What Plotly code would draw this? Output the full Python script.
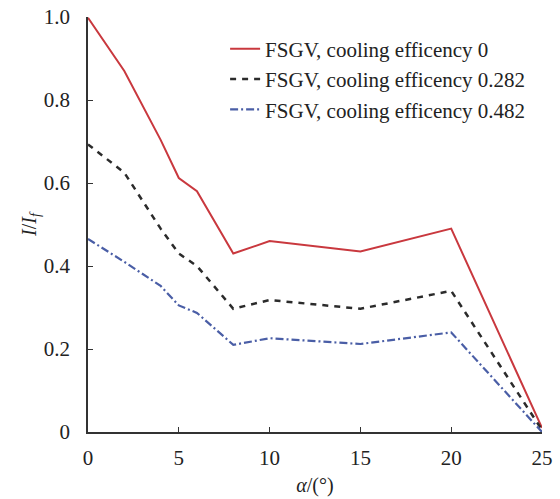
import plotly.graph_objects as go

# ángulo alfa (grados)
alpha = [0, 2, 4, 5, 6, 8, 10, 15, 20, 25]

# I/I_f para cada eficiencia de refrigeración
eff_0 = [0.998, 0.87, 0.704, 0.612, 0.58, 0.43, 0.46, 0.435, 0.49, 0.01]
eff_0282 = [0.693, 0.625, 0.49, 0.43, 0.40, 0.297, 0.318, 0.297, 0.34, 0.005]
eff_0482 = [0.465, 0.41, 0.352, 0.305, 0.287, 0.21, 0.226, 0.212, 0.24, 0.0]

names = ["FSGV, cooling efficency 0",
         "FSGV, cooling efficency 0.282",
         "FSGV, cooling efficency 0.482"]

fig = go.Figure()
fig.add_trace(go.Scatter(x=alpha, y=eff_0, mode="lines", name=names[0],
                         line=dict(color="#c9383e", width=2)))
fig.add_trace(go.Scatter(x=alpha, y=eff_0282, mode="lines", name=names[1],
                         line=dict(color="#2b2b2b", width=2.5, dash="6px,6px")))
fig.add_trace(go.Scatter(x=alpha, y=eff_0482, mode="lines", name=names[2],
                         line=dict(color="#4a5ea6", width=2.2, dash="8px,3px,2px,3px")))

font_serif = "Liberation Serif"

fig.update_layout(
    width=560, height=499,
    plot_bgcolor="white",
    paper_bgcolor="white",
    font=dict(family=font_serif, size=21, color="#222"),
    margin=dict(l=88, r=18, t=17, b=67, autoexpand=False),
    showlegend=True,
    legend=dict(x=0.302, y=0.972, xanchor="left", yanchor="top",
                bgcolor="rgba(0,0,0,0)", font=dict(size=21, family=font_serif),
                tracegroupgap=0),
)

fig.update_xaxes(
    range=[0, 25], tickvals=[0, 5, 10, 15, 20, 25],
    showgrid=False, zeroline=False,
    showline=True, linecolor="#333", linewidth=1.5,
    ticks="inside", ticklen=5, tickcolor="#333",
    ticklabelstandoff=6, automargin=False,
    title=dict(text="<i>α</i>/(°)", font=dict(size=20), standoff=9),
)
fig.update_yaxes(
    range=[0, 1.0], tickvals=[0, 0.2, 0.4, 0.6, 0.8, 1.0],
    ticktext=["0", "0.2", "0.4", "0.6", "0.8", "1.0"],
    showgrid=False, zeroline=False,
    showline=True, linecolor="#333", linewidth=1.5,
    ticks="inside", ticklen=5, tickcolor="#333",
    ticklabelstandoff=12, automargin=False,
    title=dict(text="<i>I</i>/<i>I</i><sub><i>f</i></sub>", font=dict(size=20), standoff=2),
)

fig.write_html("out.html", config={"displayModeBar": False},
               post_script="document.body.style.margin='0';")
